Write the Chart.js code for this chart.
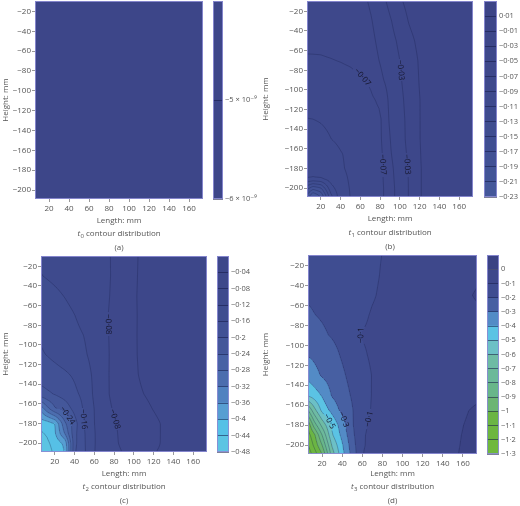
<!DOCTYPE html>
<html><head><meta charset="utf-8">
<script src="https://cdn.jsdelivr.net/npm/chart.js@4.4.1/dist/chart.umd.min.js"></script>
<style>
html,body{margin:0;padding:0;background:#fff}
body{width:520px;height:506px;position:relative;overflow:hidden}
canvas{position:absolute;display:block}
</style></head><body>
<script>
// ---------------- DATA ----------------
const gridX = [6, 12, 20, 30, 40, 50, 60, 70, 80, 90, 100, 110, 120, 135, 150, 174];
const gridY = [-9, -30, -50, -70, -90, -110, -130, -150, -165, -180, -190, -200, -208];
const xTickValues = [20, 40, 60, 80, 100, 120, 140, 160];
const yTickValues = [-20, -40, -60, -80, -100, -120, -140, -160, -180, -200];

// t0
const t0GridX = [6, 174];
const t0GridY = [-9, -208];
const t0Values = [[-5.1e-9, -5.1e-9], [-5.1e-9, -5.1e-9]];
const t0Levels = [-6e-9, -5e-9, -4e-9];
const t0Labels = [];

// t1
const t1Values = [
 [-0.062,-0.062,-0.062,-0.061,-0.060,-0.058,-0.055,-0.048,-0.037,-0.025,-0.0125,-0.003,0.002,0.005,0.006,0.007],
 [-0.064,-0.064,-0.064,-0.063,-0.062,-0.060,-0.057,-0.052,-0.042,-0.032,-0.020,-0.008,-0.001,0.004,0.006,0.007],
 [-0.067,-0.067,-0.067,-0.066,-0.065,-0.063,-0.060,-0.055,-0.0455,-0.036,-0.0265,-0.0147,-0.005,0.002,0.005,0.006],
 [-0.0715,-0.0714,-0.0712,-0.0705,-0.0695,-0.068,-0.065,-0.058,-0.049,-0.039,-0.030,-0.019,-0.008,0.000,0.004,0.005],
 [-0.077,-0.077,-0.077,-0.076,-0.075,-0.074,-0.072,-0.068,-0.054,-0.043,-0.032,-0.0205,-0.009,0.000,0.004,0.005],
 [-0.083,-0.083,-0.082,-0.081,-0.079,-0.077,-0.075,-0.073,-0.067,-0.0455,-0.0345,-0.0225,-0.010,-0.001,0.003,0.004],
 [-0.0905,-0.0901,-0.089,-0.087,-0.085,-0.082,-0.079,-0.076,-0.0725,-0.047,-0.036,-0.024,-0.010,-0.0015,0.002,0.003],
 [-0.097,-0.096,-0.094,-0.0902,-0.087,-0.084,-0.081,-0.077,-0.073,-0.050,-0.037,-0.024,-0.010,-0.002,0.002,0.003],
 [-0.102,-0.101,-0.099,-0.096,-0.0908,-0.087,-0.084,-0.080,-0.075,-0.052,-0.038,-0.026,-0.0105,-0.002,0.002,0.003],
 [-0.101,-0.101,-0.100,-0.097,-0.092,-0.087,-0.084,-0.080,-0.076,-0.055,-0.040,-0.027,-0.011,-0.002,0.002,0.003],
 [-0.110,-0.112,-0.110,-0.101,-0.095,-0.088,-0.084,-0.080,-0.076,-0.056,-0.041,-0.028,-0.011,-0.002,0.002,0.003],
 [-0.163,-0.182,-0.172,-0.118,-0.097,-0.089,-0.085,-0.081,-0.077,-0.057,-0.042,-0.028,-0.011,-0.002,0.002,0.003],
 [-0.195,-0.231,-0.208,-0.136,-0.098,-0.0895,-0.085,-0.081,-0.077,-0.057,-0.042,-0.028,-0.011,-0.002,0.002,0.003]
];
const t1Levels = [-0.23,-0.21,-0.19,-0.17,-0.15,-0.13,-0.11,-0.09,-0.07,-0.05,-0.03,-0.01,0.01,0.03];
const t1Labels = [[-0.07, 67, -87], [-0.07, 87.5, -176], [-0.03, 102.5, -80], [-0.03, 106, -176]];

// t2
const t2Values = [
 [-0.115,-0.114,-0.112,-0.108,-0.103,-0.097,-0.091,-0.085,-0.077,-0.061,-0.045,-0.033,-0.028,-0.025,-0.023,-0.022],
 [-0.121,-0.118,-0.114,-0.109,-0.104,-0.098,-0.092,-0.086,-0.0766,-0.061,-0.044,-0.033,-0.028,-0.025,-0.023,-0.022],
 [-0.135,-0.131,-0.126,-0.119,-0.111,-0.102,-0.093,-0.0855,-0.0755,-0.060,-0.043,-0.033,-0.028,-0.025,-0.023,-0.022],
 [-0.146,-0.142,-0.137,-0.129,-0.1205,-0.108,-0.096,-0.084,-0.074,-0.059,-0.0435,-0.033,-0.028,-0.025,-0.023,-0.022],
 [-0.156,-0.152,-0.146,-0.138,-0.129,-0.119,-0.104,-0.0845,-0.0745,-0.059,-0.043,-0.0335,-0.029,-0.025,-0.023,-0.022],
 [-0.163,-0.159,-0.152,-0.143,-0.134,-0.124,-0.109,-0.086,-0.074,-0.058,-0.043,-0.034,-0.029,-0.025,-0.023,-0.022],
 [-0.181,-0.177,-0.172,-0.165,-0.155,-0.136,-0.113,-0.0855,-0.074,-0.058,-0.044,-0.035,-0.0295,-0.026,-0.023,-0.022],
 [-0.215,-0.207,-0.198,-0.184,-0.167,-0.150,-0.113,-0.088,-0.072,-0.058,-0.047,-0.040,-0.034,-0.027,-0.024,-0.022],
 [-0.345,-0.295,-0.245,-0.223,-0.187,-0.154,-0.119,-0.091,-0.077,-0.062,-0.052,-0.046,-0.039,-0.030,-0.025,-0.022],
 [-0.425,-0.420,-0.400,-0.290,-0.216,-0.157,-0.120,-0.095,-0.083,-0.070,-0.058,-0.050,-0.045,-0.034,-0.027,-0.023],
 [-0.445,-0.435,-0.405,-0.318,-0.210,-0.162,-0.122,-0.097,-0.085,-0.071,-0.059,-0.051,-0.045,-0.034,-0.027,-0.023],
 [-0.458,-0.448,-0.425,-0.390,-0.210,-0.163,-0.122,-0.099,-0.086,-0.072,-0.060,-0.052,-0.044,-0.035,-0.027,-0.023],
 [-0.467,-0.455,-0.432,-0.400,-0.205,-0.164,-0.121,-0.102,-0.089,-0.077,-0.062,-0.054,-0.041,-0.036,-0.028,-0.023]
];
const t2Levels = [-0.48,-0.44,-0.40,-0.36,-0.32,-0.28,-0.24,-0.20,-0.16,-0.12,-0.08,-0.04,0];
const t2Labels = [[-0.08, 74.3, -79], [-0.24, 36, -172], [-0.16, 49.3, -175.6], [-0.08, 81, -175.6]];

// t3
const t3Values = [
 [-0.170,-0.168,-0.164,-0.158,-0.150,-0.140,-0.128,-0.114,-0.099,-0.085,-0.070,-0.060,-0.050,-0.040,-0.030,-0.020],
 [-0.178,-0.176,-0.172,-0.165,-0.155,-0.144,-0.131,-0.114,-0.094,-0.080,-0.066,-0.056,-0.047,-0.035,-0.022,-0.006],
 [-0.190,-0.187,-0.182,-0.173,-0.162,-0.148,-0.131,-0.107,-0.088,-0.075,-0.062,-0.052,-0.043,-0.031,-0.016,0.004],
 [-0.212,-0.202,-0.193,-0.180,-0.165,-0.145,-0.115,-0.092,-0.082,-0.071,-0.060,-0.050,-0.042,-0.032,-0.022,-0.008],
 [-0.235,-0.226,-0.212,-0.193,-0.170,-0.132,-0.096,-0.085,-0.078,-0.069,-0.059,-0.050,-0.043,-0.033,-0.024,-0.012],
 [-0.295,-0.283,-0.262,-0.230,-0.190,-0.152,-0.112,-0.088,-0.078,-0.068,-0.058,-0.050,-0.043,-0.033,-0.024,-0.013],
 [-0.370,-0.330,-0.290,-0.255,-0.215,-0.170,-0.130,-0.097,-0.083,-0.071,-0.060,-0.051,-0.044,-0.034,-0.024,-0.012],
 [-0.480,-0.450,-0.390,-0.290,-0.240,-0.190,-0.135,-0.096,-0.083,-0.071,-0.060,-0.051,-0.043,-0.032,-0.020,-0.008],
 [-0.800,-0.640,-0.470,-0.365,-0.270,-0.205,-0.135,-0.092,-0.080,-0.070,-0.060,-0.050,-0.040,-0.028,-0.012,0.006],
 [-1.080,-0.860,-0.670,-0.480,-0.340,-0.210,-0.110,-0.090,-0.078,-0.068,-0.058,-0.048,-0.038,-0.025,-0.008,0.010],
 [-1.140,-1.030,-0.800,-0.510,-0.370,-0.225,-0.105,-0.089,-0.077,-0.067,-0.057,-0.047,-0.037,-0.023,-0.006,0.011],
 [-1.205,-1.080,-0.900,-0.585,-0.410,-0.245,-0.104,-0.090,-0.077,-0.066,-0.056,-0.046,-0.036,-0.022,-0.005,0.012],
 [-1.260,-1.150,-0.990,-0.640,-0.430,-0.260,-0.101,-0.090,-0.077,-0.066,-0.056,-0.046,-0.036,-0.022,-0.004,0.013]
];
const t3Levels = [-1.3,-1.2,-1.1,-1.0,-0.9,-0.8,-0.7,-0.6,-0.5,-0.4,-0.3,-0.2,-0.1,0,0.1];
const t3Labels = [[-0.1, 58.5, -90], [-0.1, 63.5, -174], [-0.3, 41.8, -174.6], [-0.5, 28.4, -176.3]];

// ---------------- STYLE ----------------
const FONT = "'Open Sans','DejaVu Sans',sans-serif";
const xMin = 6, xMax = 174, yMin = -209, yMax = -9.5;
const cmapStops = [0.1,0.03,0,-0.1,-0.16,-0.22,-0.26,-0.30,-0.34,-0.36,-0.38,-0.42,-0.46,-0.55,-0.65,-0.75,-0.85,-0.95,-1.05,-1.15,-1.25];
const cmapColors = ['#39417f','#3b4386','#3d4689','#3e4a8d','#3f4e92','#44579a','#4862a5','#4c6dae','#5182c0','#5594cd','#579ed2','#56c0e6','#5cc4e3','#6cc0c6','#6ebba4','#6cb99a','#68b68a','#6cb573','#6bb544','#6db640','#6fb83d'];
const panelLayout = [
  {ox:0,   oy:0,   plot:[35,1,203,199], bar:[213,1,223,199], axisTitleY:221, captionY:234, letterY:248},
  {ox:260, oy:0,   plot:[47,1,213,197], bar:[224,1,237,197], axisTitleY:219, captionY:233, letterY:247},
  {ox:0,   oy:253, plot:[41,3,207,199], bar:[217,3,229,199], axisTitleY:221, captionY:234, letterY:248},
  {ox:260, oy:253, plot:[48,2,217,201], bar:[227,2,239,201], axisTitleY:221, captionY:234, letterY:248}
];

// ---------------- HELPERS ----------------
function decLabel(v){ const s = String(Number(v.toFixed(4))); return s.replace('-', '\u2212').replace('.', '\u00b7'); }
function sciLabel(v){ const m = Math.round(v * 1e9); return (m < 0 ? '\u2212' : '') + Math.abs(m) + ' \u00d7 10\u207b\u2079'; }
function hexRgb(h){ return [parseInt(h.slice(1,3),16), parseInt(h.slice(3,5),16), parseInt(h.slice(5,7),16)]; }
function cmap(v){
  if (v >= cmapStops[0]) return cmapColors[0];
  for (let i = 0; i < cmapStops.length - 1; i++) {
    if (v <= cmapStops[i] && v >= cmapStops[i+1]) {
      const t = (cmapStops[i] - v) / (cmapStops[i] - cmapStops[i+1]);
      const a = hexRgb(cmapColors[i]), b = hexRgb(cmapColors[i+1]);
      return 'rgb(' + a.map((c,k)=>Math.round(c + (b[k]-c)*t)).join(',') + ')';
    }
  }
  return cmapColors[cmapColors.length-1];
}
function bandColors(levels){ const out=[]; for (let i=0;i<levels.length-1;i++) out.push(cmap((levels[i]+levels[i+1])/2)); return out; }
function bandOf(v, levels){ for (let i=0;i<levels.length-2;i++){ if (v < levels[i+1]) return i; } return levels.length-2; }
function makeField(gx, gy, z){
  return function(x, y){
    let i = 0; while (i < gx.length-2 && x > gx[i+1]) i++;
    let j = 0; while (j < gy.length-2 && y < gy[j+1]) j++;
    let tx = (x - gx[i]) / (gx[i+1] - gx[i]); tx = Math.max(0, Math.min(1, tx));
    let ty = (gy[j] - y) / (gy[j] - gy[j+1]); ty = Math.max(0, Math.min(1, ty));
    const a = z[j][i], b = z[j][i+1], c = z[j+1][i], d = z[j+1][i+1];
    return a*(1-tx)*(1-ty) + b*tx*(1-ty) + c*(1-tx)*ty + d*tx*ty;
  };
}
function mkCanvas(x, y, w, h){
  const c = document.createElement('canvas');
  c.width = w; c.height = h; c.style.left = x + 'px'; c.style.top = y + 'px';
  c.style.width = w + 'px'; c.style.height = h + 'px';
  document.body.appendChild(c); return c;
}
const framePlugin = {
  id: 'frame',
  afterDraw(chart){
    const {ctx, chartArea: ca} = chart;
    ctx.save(); ctx.strokeStyle = 'rgba(140,140,212,0.9)'; ctx.lineWidth = 1;
    ctx.strokeRect(ca.left + 0.5, ca.top + 0.5, ca.right - ca.left - 1, ca.bottom - ca.top - 1);
    ctx.restore();
  }
};
function makeCaptionPlugin(d, L){
  return {
    id: 'caption',
    afterDraw(chart){
      const {ctx, chartArea: ca} = chart;
      const cx = (ca.left + ca.right) / 2;
      ctx.save(); ctx.fillStyle = '#555'; ctx.textBaseline = 'middle'; ctx.textAlign = 'left';
      const rest = ' contour distribution';
      ctx.font = 'italic 8px ' + FONT; const w1 = ctx.measureText('t').width;
      ctx.font = '6px ' + FONT; const w2 = ctx.measureText(d.sub).width;
      ctx.font = '8px ' + FONT; const w3 = ctx.measureText(rest).width;
      let x = cx - (w1 + w2 + w3) / 2; const y = L.captionY;
      ctx.font = 'italic 8px ' + FONT; ctx.fillText('t', x, y); x += w1;
      ctx.font = '6px ' + FONT; ctx.fillText(d.sub, x + 0.3, y + 2.5); x += w2 + 0.3;
      ctx.font = '8px ' + FONT; ctx.fillText(rest, x, y);
      ctx.textAlign = 'center'; ctx.fillText(d.letter, cx, L.letterY);
      ctx.restore();
    }
  };
}

function makeContourPlugin(field, d, colors){
  return {
    id: 'contour',
    beforeDatasetsDraw(chart){
      const {ctx, chartArea: ca, scales} = chart; const sx = scales.x, sy = scales.y;
      const L = Math.floor(ca.left), R = Math.ceil(ca.right), T = Math.floor(ca.top), B = Math.ceil(ca.bottom);
      const xv = []; for (let px = L; px < R; px++) xv.push(sx.getValueForPixel(px + 0.5));
      ctx.save();
      for (let py = T; py < B; py++) {
        const yv = sy.getValueForPixel(py + 0.5);
        let start = 0, band = bandOf(field(xv[0], yv), d.levels);
        for (let k = 1; k <= xv.length; k++) {
          const b = k < xv.length ? bandOf(field(xv[k], yv), d.levels) : -1;
          if (b !== band) { ctx.fillStyle = colors[band]; ctx.fillRect(L + start, py, k - start, 1); start = k; band = b; }
        }
      }
      ctx.restore();
    },
    afterDatasetsDraw(chart){
      const {ctx, chartArea: ca, scales} = chart; const sx = scales.x, sy = scales.y;
      const step = 2;
      const pxs = []; for (let p = ca.left; p < ca.right; p += step) pxs.push(p); pxs.push(ca.right);
      const pys = []; for (let p = ca.top; p < ca.bottom; p += step) pys.push(p); pys.push(ca.bottom);
      const xvals = pxs.map(p => sx.getValueForPixel(p));
      const V = pys.map(p => { const yv = sy.getValueForPixel(p); return xvals.map(x => field(x, yv)); });
      const fp = (px, py) => field(sx.getValueForPixel(px), sy.getValueForPixel(py));
      ctx.save();
      ctx.beginPath(); ctx.rect(ca.left, ca.top, ca.right - ca.left, ca.bottom - ca.top); ctx.clip();
      ctx.font = '8px ' + FONT;
      const labs = d.labels.map(([lv, xv, yv]) => {
        let px = sx.getPixelForValue(xv); const py = sy.getPixelForValue(yv);
        const g = q => fp(q, py) - lv;
        let found = null;
        for (let dd = 0; dd <= 30 && found === null; dd += 0.5) {
          for (const s of [1, -1]) { const q = px + s*dd, q2 = q + s*0.5; if (g(q) * g(q2) <= 0) { found = (q + q2) / 2; break; } }
        }
        if (found !== null) px = found;
        const gx = fp(px + 2, py) - fp(px - 2, py), gy = fp(px, py + 2) - fp(px, py - 2);
        let ang = Math.atan2(gx, -gy);
        if (ang > Math.PI/2) ang -= Math.PI;
        if (ang <= -Math.PI/2) ang += Math.PI;
        const text = d.fmt(lv);
        return {lv, px, py, ang, text, r: ctx.measureText(text).width / 2 + 1.5};
      });
      ctx.strokeStyle = 'rgba(22,26,72,0.42)'; ctx.lineWidth = 0.7;
      for (const lv of d.levels.slice(1, -1)) {
        const myLabs = labs.filter(l => l.lv === lv);
        ctx.beginPath();
        const S = (p, q) => {
          const mx = (p[0] + q[0]) / 2, my = (p[1] + q[1]) / 2;
          for (const l of myLabs) { if (Math.hypot(mx - l.px, my - l.py) < l.r) return; }
          ctx.moveTo(p[0], p[1]); ctx.lineTo(q[0], q[1]);
        };
        for (let j = 0; j < pys.length - 1; j++) {
          const y0 = pys[j], y1 = pys[j+1];
          for (let i = 0; i < pxs.length - 1; i++) {
            const x0 = pxs[i], x1 = pxs[i+1];
            const a = V[j][i], b = V[j][i+1], c = V[j+1][i+1], e = V[j+1][i];
            const idx = (a >= lv ? 8 : 0) | (b >= lv ? 4 : 0) | (c >= lv ? 2 : 0) | (e >= lv ? 1 : 0);
            if (idx === 0 || idx === 15) continue;
            const Tp = () => [x0 + (lv - a) / (b - a) * (x1 - x0), y0];
            const Rp = () => [x1, y0 + (lv - b) / (c - b) * (y1 - y0)];
            const Bp = () => [x0 + (lv - e) / (c - e) * (x1 - x0), y1];
            const Lp = () => [x0, y0 + (lv - a) / (e - a) * (y1 - y0)];
            switch (idx) {
              case 1: case 14: S(Lp(), Bp()); break;
              case 2: case 13: S(Bp(), Rp()); break;
              case 3: case 12: S(Lp(), Rp()); break;
              case 4: case 11: S(Tp(), Rp()); break;
              case 6: case 9: S(Tp(), Bp()); break;
              case 7: case 8: S(Lp(), Tp()); break;
              case 5: { const m = (a+b+c+e)/4; if (m >= lv) { S(Lp(), Tp()); S(Bp(), Rp()); } else { S(Tp(), Rp()); S(Lp(), Bp()); } break; }
              case 10: { const m = (a+b+c+e)/4; if (m >= lv) { S(Tp(), Rp()); S(Lp(), Bp()); } else { S(Lp(), Tp()); S(Bp(), Rp()); } break; }
            }
          }
        }
        ctx.stroke();
      }
      ctx.fillStyle = '#16172e'; ctx.textAlign = 'center'; ctx.textBaseline = 'middle';
      for (const l of labs) {
        ctx.save(); ctx.translate(l.px, l.py); ctx.rotate(l.ang); ctx.fillText(l.text, 0, 0); ctx.restore();
      }
      ctx.restore();
    }
  };
}

// ---------------- BUILD ----------------
Chart.defaults.font.family = FONT;
Chart.defaults.color = '#555';

const panelData = [
  {gx:t0GridX, gy:t0GridY, z:t0Values, levels:t0Levels, labels:t0Labels, fmt:sciLabel, sub:'0', letter:'(a)'},
  {gx:gridX, gy:gridY, z:t1Values, levels:t1Levels, labels:t1Labels, fmt:decLabel, sub:'1', letter:'(b)'},
  {gx:gridX, gy:gridY, z:t2Values, levels:t2Levels, labels:t2Labels, fmt:decLabel, sub:'2', letter:'(c)'},
  {gx:gridX, gy:gridY, z:t3Values, levels:t3Levels, labels:t3Labels, fmt:decLabel, sub:'3', letter:'(d)'}
];

function buildMain(d, L){
  const [pl, pt, pr, pb] = L.plot;
  const W = pr + 3, axisBottom = L.axisTitleY + 5, H = L.letterY + 8;
  const cv = mkCanvas(L.ox, L.oy, W, H);
  const field = makeField(d.gx, d.gy, d.z);
  const colors = bandColors(d.levels);
  new Chart(cv, {
    type: 'scatter',
    data: {datasets: [{data: [], pointRadius: 0}]},
    options: {
      responsive: false, animation: false, events: [],
      layout: {autoPadding: false, padding: {left: 0, right: W - pr, top: pt, bottom: H - axisBottom}},
      plugins: {legend: {display: false}, tooltip: {enabled: false}},
      scales: {
        x: {type: 'linear', min: xMin, max: xMax,
          afterBuildTicks: s => { s.ticks = xTickValues.map(v => ({value: v})); },
          afterFit: s => { s.height = axisBottom - pb; s.paddingLeft = 0; s.paddingRight = 0; },
          ticks: {autoSkip: false, maxRotation: 0, padding: 2, color: '#555', font: {size: 8}, callback: v => decLabel(v)},
          grid: {drawOnChartArea: false, drawTicks: true, tickLength: 3, color: '#999'},
          border: {display: false},
          title: {display: true, text: 'Length: mm', color: '#555', font: {size: 8}, padding: 0}},
        y: {type: 'linear', min: yMin, max: yMax,
          afterBuildTicks: s => { s.ticks = yTickValues.map(v => ({value: v})); },
          afterFit: s => { s.width = pl; s.paddingTop = 0; s.paddingBottom = 0; },
          ticks: {autoSkip: false, padding: 1, color: '#555', font: {size: 8}, callback: v => decLabel(v)},
          grid: {drawOnChartArea: false, drawTicks: true, tickLength: 3, color: '#999'},
          border: {display: false},
          title: {display: true, text: 'Height: mm', color: '#555', font: {size: 8}, padding: {top: 1, bottom: 0}}}
      }
    },
    plugins: [makeContourPlugin(field, d, colors), framePlugin, makeCaptionPlugin(d, L)]
  });
}

function buildBar(d, L){
  const [bl, bt, br, bb] = L.bar;
  const cbw = br - bl, W = cbw + 42, H = bb + 8;
  const cv = mkCanvas(L.ox + bl, L.oy, W, H);
  const colors = bandColors(d.levels);
  const tickVals = d.levels.slice(0, -1);
  const datasets = colors.map((c, i) => ({data: [[d.levels[i], d.levels[i+1]]], backgroundColor: c, borderWidth: 0,
    grouped: false, barPercentage: 1, categoryPercentage: 1}));
  new Chart(cv, {
    type: 'bar',
    data: {labels: [''], datasets},
    options: {
      responsive: false, animation: false, events: [],
      layout: {autoPadding: false, padding: {left: 0, right: 0, top: bt, bottom: H - bb}},
      plugins: {legend: {display: false}, tooltip: {enabled: false}},
      scales: {
        x: {display: false},
        y: {type: 'linear', position: 'right', min: d.levels[0], max: d.levels[d.levels.length-1],
          afterBuildTicks: s => { s.ticks = tickVals.map(v => ({value: v})); },
          afterFit: s => { s.width = W - cbw; s.paddingTop = 0; s.paddingBottom = 0; },
          ticks: {autoSkip: false, padding: 2, color: '#555', font: {size: 7.5}, callback: v => d.fmt(v)},
          grid: {drawTicks: false, color: 'rgba(20,24,70,0.55)', lineWidth: 1, z: 1},
          border: {display: false}}
      }
    },
    plugins: [framePlugin]
  });
}

panelData.forEach((d, k) => {
  const L = panelLayout[k];
  buildMain(d, L);
  buildBar(d, L);
});
</script>
</body></html>
